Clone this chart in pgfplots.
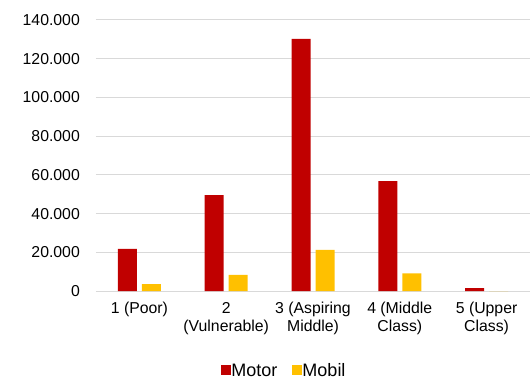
\documentclass[border=0pt]{standalone}
\usepackage{fontspec}
\setmainfont{Liberation Sans}
\usepackage{pgfplots}
\pgfplotsset{compat=1.18}
\definecolor{motor}{HTML}{C00000}
\definecolor{mobil}{HTML}{FFC000}
\definecolor{gridc}{HTML}{D9D9D9}
\newcommand{\chartfont}{\fontsize{15.8}{18}\selectfont}
\newcommand{\legfont}{\fontsize{18}{20}\selectfont}
\begin{document}
\begin{tikzpicture}
\begin{axis}[
  at={(0,0)}, anchor=south west,
  scale only axis, width=434pt, height=271pt,
  ybar=5pt, bar width=19pt,
  xmin=0.5, xmax=5.5, ymin=0, ymax=140000,
  xtick={1,2,3,4,5},
  xticklabels={1 (Poor), {2\\(Vulnerable)}, {3 (Aspiring\\Middle)}, {4 (Middle\\Class)}, {5 (Upper\\Class)}},
  ytick={0,20000,40000,60000,80000,100000,120000,140000},
  scaled y ticks=false,
  /pgf/number format/.cd, fixed, precision=0, 1000 sep={.}, assume math mode=true,
  /pgfplots/.cd,
  major tick length=0pt,
  axis line style={draw=none},
  ymajorgrids, grid style={color=gridc, line width=1pt},
  tick label style={font=\chartfont},
  yticklabel style={inner sep=0pt, anchor=east, xshift=-16pt},
  xticklabel style={inner sep=0pt, anchor=north, align=center, yshift=-11pt},
  legend columns=2,
  legend style={draw=none, font=\legfont, at={(axis description cs:0.432,-0.295)}, anchor=center,
    inner sep=0pt,
    /tikz/every even column/.append style={column sep=15pt},
    nodes={inner sep=0pt, xshift=1pt}},
  legend image code/.code={\fill[#1] (0pt,-4pt) rectangle (10pt,6pt);},
]
\addplot[fill=motor, draw=none] coordinates {(1,21700) (2,49500) (3,130200) (4,56700) (5,1500)};
\addplot[fill=mobil, draw=none] coordinates {(1,3600) (2,8300) (3,21200) (4,9100) (5,0)};
\legend{Motor, Mobil}
\end{axis}
\pgfresetboundingbox
\path[use as bounding box] (-96pt,-89pt) rectangle (434pt,291pt);
\end{tikzpicture}
\end{document}
